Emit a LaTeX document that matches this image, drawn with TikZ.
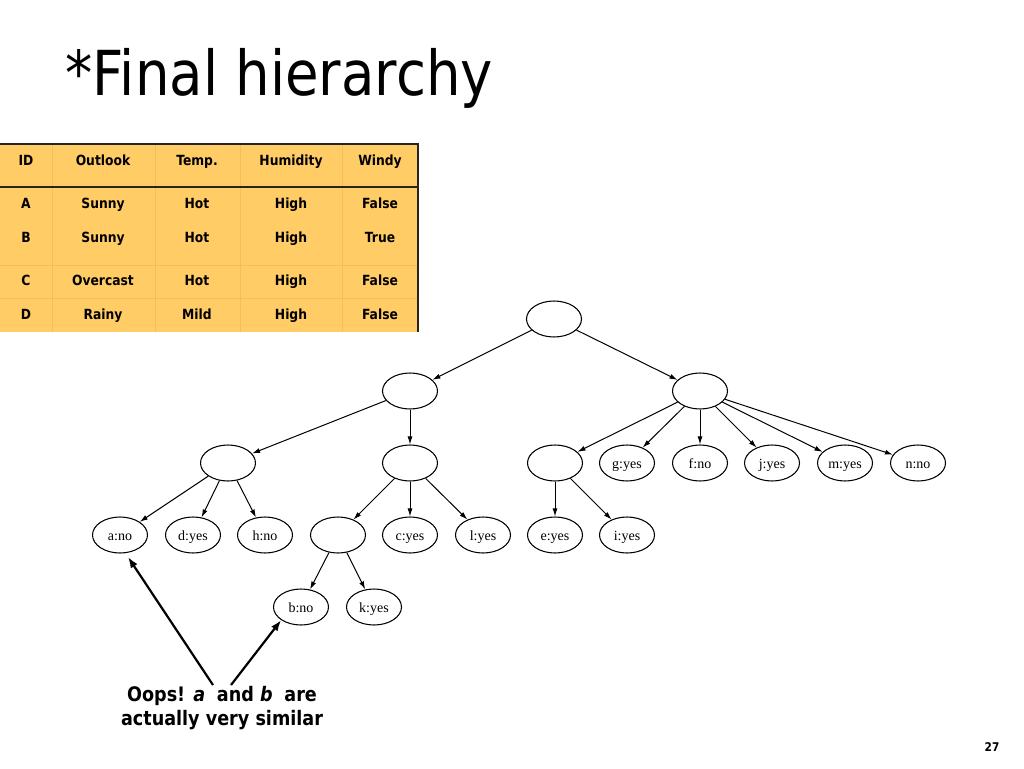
\documentclass[tikz,border=0pt]{standalone}
\usepackage{fontspec}
\setmainfont{DejaVu Sans}[FakeStretch=0.88]
\newfontfamily\treefont{Liberation Serif}
\usetikzlibrary{arrows.meta,shapes.geometric}
\definecolor{tbl}{RGB}{255,204,102}
\definecolor{tblsep}{RGB}{240,192,96}
\definecolor{tblline}{RGB}{40,35,30}
\begin{document}
\begin{tikzpicture}[x=1pt,y=-1pt,
  tn/.style={draw, ellipse, minimum width=55pt, minimum height=36pt, inner sep=0pt, text height=10pt, text depth=0pt, line width=1.05pt, font=\treefont\fontsize{14}{14}\selectfont},
  edge/.style={-{Latex[length=8pt,width=5pt]}, line width=1pt},
  callout/.style={-{Latex[length=11pt,width=8pt]}, line width=2.2pt},
  cell/.style={font=\bfseries\fontsize{14}{16}\selectfont, anchor=base, inner sep=0pt},
]
\useasboundingbox (0,0) rectangle (1024,768);
\fill[white] (0,0) rectangle (1024,768);
% title
\node[anchor=base west, inner sep=0pt, font=\fontsize{62}{62}\selectfont] (title) at (65,95) {*Final hierarchy};
% table
\node[fill=tbl, anchor=north west, minimum width=418pt, minimum height=188pt, inner sep=0pt, outer sep=0pt] (table) at (0,144) {};
\foreach \x in {52,155,240,342} \draw[tblsep, line width=0.8pt] (\x,144) -- (\x,332);
\foreach \y in {265,298} \draw[tblsep, line width=0.8pt] (0,\y) -- (418,\y);
\draw[tblline, line width=1.5pt] (0,144) -- (418,144) -- (418,332);
\draw[tblline, line width=1.5pt] (0,187) -- (418,187);
\foreach \x/\t [count=\i] in {26/ID,103/Outlook,197/Temp.,291/Humidity,380/Windy}
  \node[cell] (h\i) at (\x,165) {\t};
\foreach \x/\t [count=\i] in {26/A,103/Sunny,197/Hot,291/High,380/False}
  \node[cell] (ra\i) at (\x,208) {\t};
\foreach \x/\t [count=\i] in {26/B,103/Sunny,197/Hot,291/High,380/True}
  \node[cell] (rb\i) at (\x,242) {\t};
\foreach \x/\t [count=\i] in {26/C,103/Overcast,197/Hot,291/High,380/False}
  \node[cell] (rc\i) at (\x,285) {\t};
\foreach \x/\t [count=\i] in {26/D,103/Rainy,197/Mild,291/High,380/False}
  \node[cell] (rd\i) at (\x,319) {\t};
% tree
\node[tn] (R) at (554,319) {};
\node[tn] (L1) at (410,391) {};
\node[tn] (R1) at (700,391) {};
\node[tn] (L2a) at (228,463) {};
\node[tn] (L2b) at (410,463) {};
\node[tn] (R2a) at (555,463) {};
\node[tn] (g) at (627,463) {g:yes};
\node[tn] (f) at (700,463) {f:no};
\node[tn] (j) at (772,463) {j:yes};
\node[tn] (m) at (845,463) {m:yes};
\node[tn] (n) at (918,463) {n:no};
\node[tn] (a) at (120,535) {a:no};
\node[tn] (d) at (193,535) {d:yes};
\node[tn] (h) at (265,535) {h:no};
\node[tn] (L3) at (338,535) {};
\node[tn] (c) at (410,535) {c:yes};
\node[tn] (l) at (483,535) {l:yes};
\node[tn] (e) at (555,535) {e:yes};
\node[tn] (i) at (627,535) {i:yes};
\node[tn] (b) at (301,607) {b:no};
\node[tn] (k) at (374,607) {k:yes};
\foreach \s/\t in {R/L1,R/R1,L1/L2a,L1/L2b,L2a/a,L2a/d,L2a/h,L2b/L3,L2b/c,L2b/l,L3/b,L3/k,R1/R2a,R1/g,R1/f,R1/j,R1/m,R1/n,R2a/e,R2a/i}
  \draw[edge] (\s) -- (\t);
% annotation
\node[font=\bfseries\fontsize{20}{24}\selectfont, align=center, inner sep=0pt] (oops) at (222,708) {Oops! \textit{a}\; and \textit{b}\; are\\actually very similar};
\coordinate (oa) at (213,685);
\coordinate (ob) at (231,685);
\coordinate (atip) at (128,557);
\draw[callout] (oa) -- (atip);
\draw[callout] (ob) -- (b.south west);
% page number
\node[font=\bfseries\fontsize{12}{12}\selectfont] (pg) at (992,747) {27};
\end{tikzpicture}
\end{document}
